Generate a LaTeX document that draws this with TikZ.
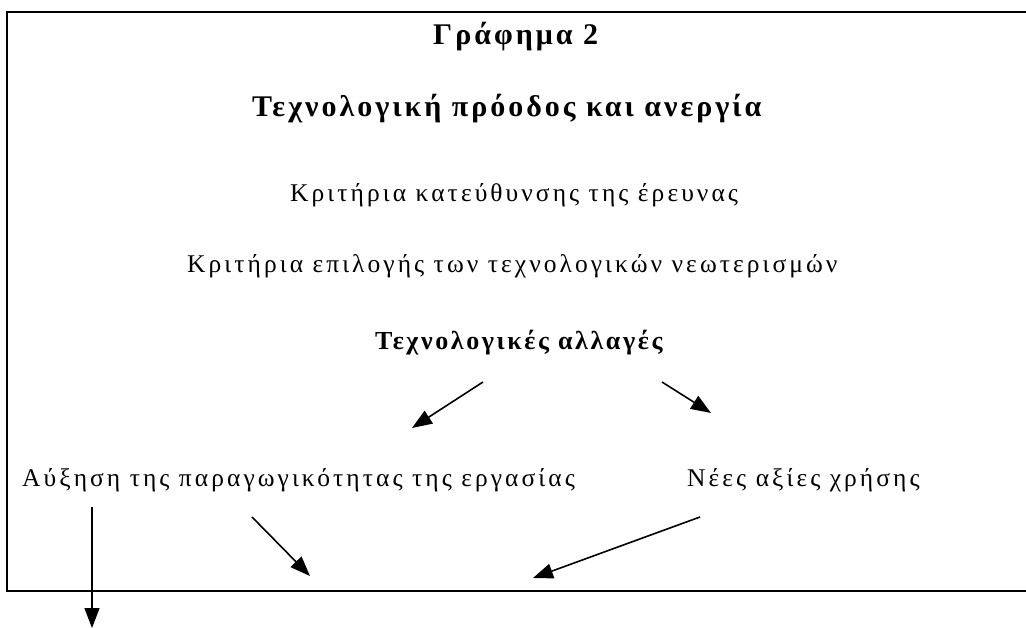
\documentclass[tikz,border=0pt]{standalone}
\usepackage{fontspec}
\setmainfont{Liberation Serif}[LetterSpace=12, BoldFeatures={LetterSpace=10}]
\usetikzlibrary{arrows.meta, positioning}

\begin{document}
\begin{tikzpicture}[x=1pt, y=-1pt,
    txt/.style={inner sep=0pt, anchor=base west, font=\fontsize{25.5}{30}\selectfont},
    btxt/.style={txt, font=\fontsize{30}{34}\selectfont\bfseries},
    arr/.style={line width=1.6pt, -{Triangle[length=20pt, width=15pt]}}]
    \clip (0,0) rectangle (1026,628);
    % πλαίσιο
    \draw[line width=2.6pt] (7,12) rectangle (1060,591);
    % τίτλοι
    \node[btxt] (title) at (433,45) {Γράφημα 2};
    \node[btxt] (sub) at (252,117) {Τεχνολογική πρόοδος και ανεργία};
    \node[txt] (krit1) at (290,202) {Κριτήρια κατεύθυνσης της έρευνας};
    \node[txt] (krit2) at (187,273) {Κριτήρια επιλογής των τεχνολογικών νεωτερισμών};
    \node[btxt, font=\fontsize{26}{30}\selectfont\bfseries] (allages) at (375,350) {Τεχνολογικές αλλαγές};
    \node[txt] (afxisi) at (22,486) {Αύξηση της παραγωγικότητας της εργασίας};
    \node[txt] (nees) at (687,486) {Νέες αξίες χρήσης};
    % άκρα βελών
    \coordinate (a1) at (483,382);
    \coordinate (b1) at (412,428);
    \coordinate (a2) at (662,382);
    \coordinate (b2) at (711,413);
    \coordinate (a3) at (252,517);
    \coordinate (b3) at (310,576);
    \coordinate (a4) at (700,517);
    \coordinate (b4) at (533,578);
    \coordinate (a5) at (92,507);
    \coordinate (b5) at (92,628);
    \foreach \i in {1,...,5} {
        \draw[arr] (a\i) -- (b\i);
    }
\end{tikzpicture}
\end{document}
